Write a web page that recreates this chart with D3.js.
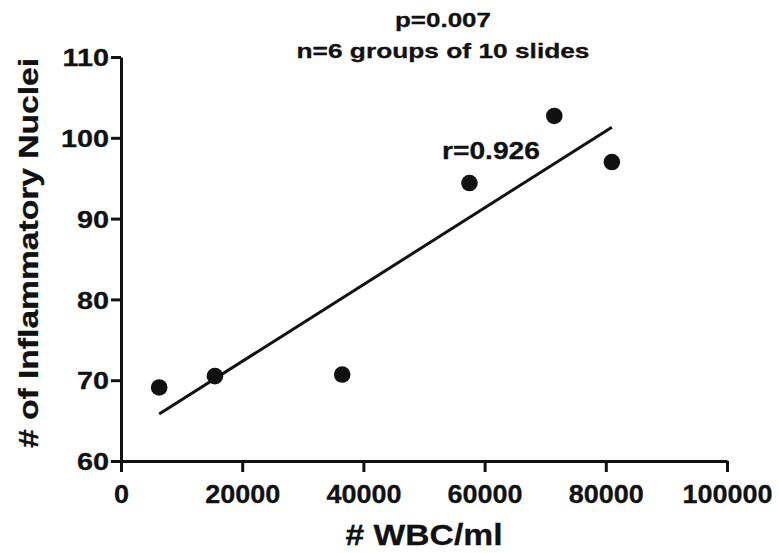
<!DOCTYPE html>
<html>
<head>
  <meta charset="UTF-8">
  <title>WBC vs inflammatory nuclei</title>
  <style>
    body { margin: 0; background: #fff; }
    svg text { font-family: "Liberation Sans", Arial, sans-serif; font-weight: bold; fill: #111; stroke: #111; stroke-width: 0.3px; }
  </style>
</head>
<body>
  <div id="chart"></div>
  <script src="https://d3js.org/d3.v7.min.js"></script>
  <script>
    // data
    const wbc = [6300, 15500, 36500, 57500, 71500, 81000];
    const nuclei = [69.1, 70.5, 70.7, 94.4, 102.7, 97.0];
    const xTicks = [0, 20000, 40000, 60000, 80000, 100000];
    const yTicks = [60, 70, 80, 90, 100, 110];
    const titleLines = ["p=0.007", "n=6 groups of 10 slides"];
    const rLabel = "r=0.926";

    const width = 779;
    const height = 553;

    const x = d3.scaleLinear().domain([0, 100000]).range([121, 727]);
    const y = d3.scaleLinear().domain([60, 110]).range([461, 57]);

    const svg = d3.select("#chart")
      .append("svg")
      .attr("width", width)
      .attr("height", height);

    // axes
    const xAxis = svg.append("g")
      .attr("transform", "translate(0," + y(60) + ")")
      .call(d3.axisBottom(x).tickValues(xTicks).tickFormat(d3.format("d")).tickSize(11).tickSizeOuter(0));
    xAxis.select(".domain").attr("stroke-width", 3).attr("stroke", "#111");
    xAxis.selectAll(".tick line").attr("stroke-width", 3).attr("stroke", "#111");
    const sx = 1.08;
    xAxis.selectAll(".tick text")
      .attr("font-size", 25)
      .attr("y", 42)
      .attr("dy", 0)
      .attr("transform", "scale(" + sx + ",1)");

    const yAxis = svg.append("g")
      .attr("transform", "translate(" + x(0) + ",0)")
      .call(d3.axisLeft(y).tickValues(yTicks).tickSize(10).tickSizeOuter(0));
    yAxis.select(".domain").attr("stroke-width", 3).attr("stroke", "#111");
    yAxis.selectAll(".tick line").attr("stroke-width", 3).attr("stroke", "#111");
    const sy = 1.2;
    yAxis.selectAll(".tick text")
      .attr("font-size", 24)
      .attr("x", -12 / sy)
      .attr("dy", "0.36em")
      .attr("transform", "scale(" + sy + ",1)");

    // least squares fit from the points
    const mx = d3.mean(wbc);
    const my = d3.mean(nuclei);
    const sxy = d3.sum(wbc, (d, i) => (d - mx) * (nuclei[i] - my));
    const sxx = d3.sum(wbc, d => (d - mx) * (d - mx));
    const slope = sxy / sxx;
    const icpt = my - slope * mx;
    const ends = d3.extent(wbc);

    svg.append("line")
      .attr("x1", x(ends[0]))
      .attr("y1", y(icpt + slope * ends[0]))
      .attr("x2", x(ends[1]))
      .attr("y2", y(icpt + slope * ends[1]))
      .attr("stroke", "#111")
      .attr("stroke-width", 3);

    svg.selectAll("circle")
      .data(wbc)
      .enter()
      .append("circle")
      .attr("cx", d => x(d))
      .attr("cy", (d, i) => y(nuclei[i]))
      .attr("r", 8.3)
      .attr("fill", "#111");

    // texts
    svg.append("text")
      .attr("x", 491)
      .attr("y", 159)
      .attr("text-anchor", "middle")
      .attr("font-size", 23)
      .attr("textLength", 98)
      .attr("lengthAdjust", "spacingAndGlyphs")
      .text(rLabel);

    svg.selectAll(".title")
      .data(titleLines)
      .enter()
      .append("text")
      .attr("class", "title")
      .attr("x", 443)
      .attr("y", (d, i) => 27 + i * 31)
      .attr("text-anchor", "middle")
      .attr("font-size", 21)
      .attr("textLength", (d, i) => i === 0 ? 96 : 293)
      .attr("lengthAdjust", "spacingAndGlyphs")
      .text(d => d);

    svg.append("text")
      .attr("x", 424)
      .attr("y", 545)
      .attr("text-anchor", "middle")
      .attr("font-size", 30)
      .attr("textLength", 157)
      .attr("lengthAdjust", "spacingAndGlyphs")
      .text("# WBC/ml");

    svg.append("text")
      .attr("transform", "translate(38,253) rotate(-90)")
      .attr("text-anchor", "middle")
      .attr("font-size", 27)
      .attr("textLength", 390)
      .attr("lengthAdjust", "spacingAndGlyphs")
      .text("# of Inflammatory Nuclei");
  </script>
</body>
</html>
